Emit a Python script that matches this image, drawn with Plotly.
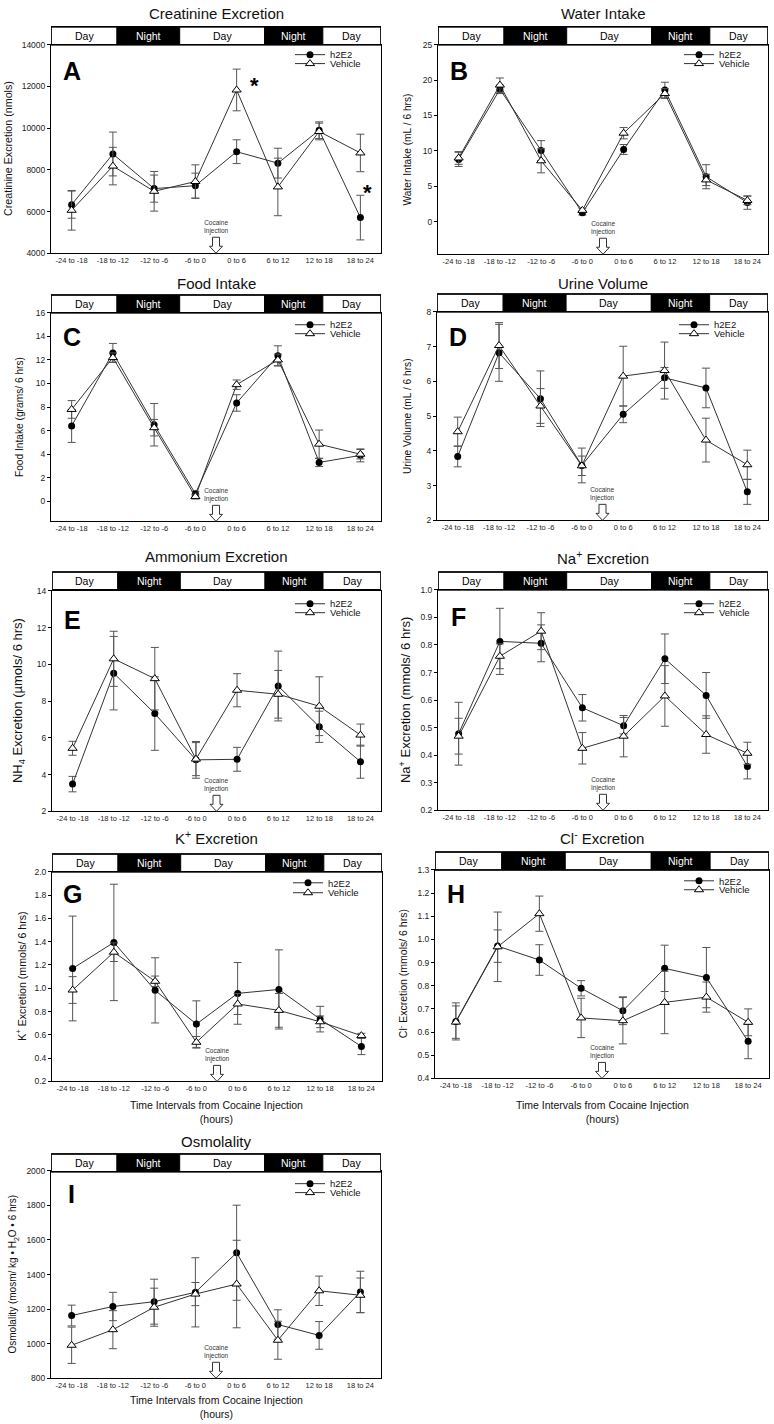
import plotly.graph_objects as go

W, H = 774, 1424
FONT = "Arial, 'Liberation Sans', Helvetica, sans-serif"

# ---------------- data ----------------
intervals = ["-24 to -18", "-18 to -12", "-12 to -6", "-6 to 0",
             "0 to 6", "6 to 12", "12 to 18", "18 to 24"]
series_names = ["h2E2", "Vehicle"]

# Day / Night periods (edges in interval-index units)
period_labels = ["Day", "Night", "Day", "Night", "Day"]
period_edges = [-0.5, 1.1, 2.62, 4.68, 6.09, 7.5]

# A  Creatinine excretion (nmols)
creat_h2e2 = [6330, 8760, 7100, 7240, 8870, 8320, 9900, 5710]
creat_h2e2_se = [650, 1050, 650, 600, 570, 715, 400, 1070]
creat_veh = [6060, 8180, 6970, 7440, 11830, 7180, 9840, 8810]
creat_veh_se = [950, 900, 950, 800, 1000, 1380, 400, 900]

# B  Water intake (mL / 6 hrs)
water_h2e2 = [8.8, 18.7, 10.05, 1.25, 10.2, 18.6, 6.35, 2.7]
water_h2e2_se = [1.0, 0.6, 1.4, 0.3, 0.7, 1.1, 1.7, 0.95]
water_veh = [9.0, 19.3, 8.6, 1.6, 12.5, 18.1, 5.9, 3.0]
water_veh_se = [0.9, 1.0, 1.7, 0.3, 0.8, 0.7, 0.8, 0.6]

# C  Food intake (grams / 6 hrs)
food_h2e2 = [6.4, 12.6, 6.5, 0.65, 8.35, 12.35, 3.3, 3.9]
food_h2e2_se = [1.4, 0.8, 1.8, 0.2, 0.7, 0.85, 0.35, 0.55]
food_veh = [7.8, 12.2, 6.25, 0.4, 9.9, 12.0, 4.85, 4.0]
food_veh_se = [0.75, 0.4, 0.7, 0.2, 0.4, 0.5, 1.2, 0.4]

# D  Urine volume (mL / 6 hrs)
urine_h2e2 = [3.84, 6.82, 5.5, 3.58, 5.05, 6.1, 5.81, 2.82]
urine_h2e2_se = [0.3, 0.82, 0.8, 0.5, 0.24, 0.3, 0.57, 0.36]
urine_veh = [4.55, 7.03, 5.29, 3.57, 6.15, 6.31, 4.31, 3.6]
urine_veh_se = [0.42, 0.66, 0.5, 0.28, 0.86, 0.82, 0.63, 0.42]

# E  Ammonium excretion (umols / 6 hrs)
nh4_h2e2 = [3.48, 9.52, 7.32, 4.8, 4.83, 8.82, 6.6, 4.7]
nh4_h2e2_se = [0.42, 2.0, 2.0, 1.0, 0.65, 1.9, 0.85, 0.9]
nh4_veh = [5.43, 10.3, 9.22, 4.84, 8.59, 8.37, 7.72, 6.15]
nh4_veh_se = [0.38, 1.5, 1.7, 0.9, 0.9, 1.3, 1.6, 0.6]

# F  Na+ excretion (mmols / 6 hrs)
na_h2e2 = [0.478, 0.813, 0.806, 0.572, 0.507, 0.75, 0.617, 0.359]
na_h2e2_se = [0.114, 0.12, 0.067, 0.048, 0.03, 0.09, 0.083, 0.045]
na_veh = [0.469, 0.759, 0.85, 0.425, 0.469, 0.615, 0.475, 0.407]
na_veh_se = [0.065, 0.045, 0.067, 0.057, 0.075, 0.11, 0.068, 0.04]

# G  K+ excretion (mmols / 6 hrs)
k_h2e2 = [1.17, 1.394, 0.982, 0.692, 0.956, 0.99, 0.735, 0.5]
k_h2e2_se = [0.45, 0.5, 0.28, 0.2, 0.265, 0.34, 0.11, 0.07]
k_veh = [0.985, 1.31, 1.06, 0.536, 0.865, 0.81, 0.712, 0.593]
k_veh_se = [0.115, 0.08, 0.045, 0.05, 0.09, 0.145, 0.05, 0.02]

# H  Cl- excretion (mmols / 6 hrs)
cl_h2e2 = [0.646, 0.971, 0.911, 0.789, 0.692, 0.875, 0.835, 0.56]
cl_h2e2_se = [0.08, 0.07, 0.066, 0.033, 0.06, 0.1, 0.13, 0.075]
cl_veh = [0.643, 0.968, 1.111, 0.661, 0.649, 0.728, 0.751, 0.642]
cl_veh_se = [0.07, 0.15, 0.076, 0.085, 0.1, 0.135, 0.065, 0.058]

# I  Osmolality
osm_h2e2 = [1163, 1215, 1243, 1297, 1526, 1111, 1048, 1299]
osm_h2e2_se = [60, 82, 130, 200, 275, 85, 80, 120]
osm_veh = [991, 1081, 1211, 1287, 1345, 1020, 1306, 1280]
osm_veh_se = [105, 110, 110, 67, 253, 110, 85, 100]

# significance markers on panel A (interval index, value)
star_x = [4.43, 7.17]
star_y = [12330, 7190]

# ---------------- layout helpers ----------------
def fx(px):
    return px / W


def fy(py):
    return 1 - py / H


panels = [
    dict(letter="A", title="Creatinine Excretion", ytitle="Creatinine Excretion (nmols)",
         data=(creat_h2e2, creat_h2e2_se, creat_veh, creat_veh_se),
         box=(51, 381, 40, 250), bar=22, yr=[4000, 14000], tick0=4000, dtick=2000, fmt="d",
         ytsize=10.7, ytx=8, title_y=9, ldy=26, leg=(50, 59, 330)),
    dict(letter="B", title="Water Intake", ytitle="Water Intake (mL / 6 hrs)",
         data=(water_h2e2, water_h2e2_se, water_veh, water_veh_se),
         box=(438, 768, 40, 251), bar=22, yr=[-4.6, 25], tick0=0, dtick=5, fmt="d",
         ytsize=10.2, ytx=407, title_y=9, ldy=26, leg=(50, 59, 719)),
    dict(letter="C", title="Food Intake", ytitle="Food Intake (grams/ 6 hrs)",
         data=(food_h2e2, food_h2e2_se, food_veh, food_veh_se),
         box=(51, 381, 310, 520), bar=292, yr=[-1.7, 16], tick0=0, dtick=2, fmt="d",
         ytsize=10.2, ytx=19, title_y=280, ldy=24, leg=(322, 331, 330)),
    dict(letter="D", title="Urine Volume", ytitle="Urine Volume (mL / 6 hrs)",
         data=(urine_h2e2, urine_h2e2_se, urine_veh, urine_veh_se),
         box=(437, 768, 309, 519), bar=291, yr=[2, 8], tick0=2, dtick=1, fmt="d",
         ytsize=10.2, ytx=407, title_y=280, ldy=25, leg=(322, 331, 714)),
    dict(letter="E", title="Ammonium Excretion", ytitle="NH<sub>4</sub> Excretion (µmols/ 6 hrs)",
         data=(nh4_h2e2, nh4_h2e2_se, nh4_veh, nh4_veh_se),
         box=(52, 381, 590, 812), bar=571, yr=[2, 14], tick0=2, dtick=2, fmt="d",
         ytsize=13, ytx=18, title_y=555, ldy=29, leg=(603, 612, 330)),
    dict(letter="F", title="Na<sup>+</sup> Excretion", ytitle="Na<sup>+</sup> Excretion (mmols/ 6 hrs)",
         data=(na_h2e2, na_h2e2_se, na_veh, na_veh_se),
         box=(438, 768, 589, 811), bar=571, yr=[0.2, 1.0], tick0=0.2, dtick=0.1, fmt=".1f",
         ytsize=13, ytx=405, title_y=556, ldy=27, leg=(603, 612, 719)),
    dict(letter="G", title="K<sup>+</sup> Excretion", ytitle="K<sup>+</sup> Excretion (mmols/ 6 hrs)",
         data=(k_h2e2, k_h2e2_se, k_veh, k_veh_se),
         box=(52, 382, 873, 1084), bar=855, yr=[0.2, 2.0], tick0=0.2, dtick=0.2, fmt=".1f",
         ytsize=10.6, ytx=21, title_y=838, ldy=22, leg=(884, 894, 328)),
    dict(letter="H", title="Cl<sup>-</sup> Excretion", ytitle="Cl<sup>-</sup> Excretion (mmols/ 6 hrs)",
         data=(cl_h2e2, cl_h2e2_se, cl_veh, cl_veh_se),
         box=(435, 769, 871, 1081), bar=853, yr=[0.4, 1.3], tick0=0.4, dtick=0.1, fmt=".1f",
         ytsize=10.5, ytx=402, title_y=838, ldy=24, leg=(882, 891, 719)),
    dict(letter="I", title="Osmolality", ytitle="Osmolality (mosm/ kg • H<sub>2</sub>O • 6 hrs)",
         data=(osm_h2e2, osm_h2e2_se, osm_veh, osm_veh_se),
         box=(51, 381, 1174, 1383), bar=1157, yr=[800, 2000], tick0=800, dtick=200, fmt="d",
         ytsize=10, ytx=13, title_y=1145, ldy=23, leg=(1187, 1196, 330)),
]

xtitle_panels = {"G": 1115, "H": 1115, "I": 1412}

fig = go.Figure()
annotations = []
shapes = []
layout = dict(
    width=W, height=H, autosize=False,
    margin=dict(l=0, r=0, t=0, b=0),
    paper_bgcolor="white", plot_bgcolor="white",
    font=dict(family=FONT, color="#111"),
)

xidx = list(range(len(intervals)))
BAR_H = 18
LEG_DX = 40

for i, p in enumerate(panels):
    n = i + 1
    sfx = "" if n == 1 else str(n)
    xa, ya = "x" + sfx, "y" + sfx
    x0, x1, top, bot = p["box"]
    h_vals, h_se, v_vals, v_se = p["data"]

    # legends (one per entry so their spacing can follow the original)
    lk1, lk2 = 2 * i + 1, 2 * i + 2
    lname1 = "legend" if lk1 == 1 else "legend%d" % lk1
    lname2 = "legend%d" % lk2
    ly1, ly2, ltx = p["leg"]
    for lname, ly in ((lname1, ly1), (lname2, ly2)):
        layout[lname] = dict(
            x=fx(ltx - LEG_DX), xanchor="left", y=fy(ly), yanchor="middle",
            bgcolor="rgba(0,0,0,0)", borderwidth=0, itemwidth=30,
            font=dict(family=FONT, size=9.5, color="#111"),
            tracegroupgap=0,
        )

    fig.add_trace(go.Scatter(
        x=xidx, y=h_vals, name=series_names[0], mode="lines+markers",
        error_y=dict(type="data", array=h_se, color="#555", thickness=1, width=4),
        line=dict(color="#333", width=1),
        marker=dict(symbol="circle", size=7, color="black"),
        xaxis=xa, yaxis=ya, legend=lname1, showlegend=True,
    ))
    fig.add_trace(go.Scatter(
        x=xidx, y=v_vals, name=series_names[1], mode="lines+markers",
        error_y=dict(type="data", array=v_se, color="#555", thickness=1, width=4),
        line=dict(color="#333", width=1),
        marker=dict(symbol="triangle-up", size=8, color="white",
                    line=dict(color="black", width=1)),
        xaxis=xa, yaxis=ya, legend=lname2, showlegend=True,
    ))

    layout["xaxis" + sfx] = dict(
        domain=[fx(x0), fx(x1)], anchor=ya, range=[-0.5, 7.5],
        tickmode="array", tickvals=xidx, ticktext=intervals,
        ticks="", showgrid=False, zeroline=False,
        showline=True, mirror=True, linecolor="black", linewidth=1,
        tickfont=dict(family=FONT, size=7.5, color="#222"),
        fixedrange=True,
    )
    layout["yaxis" + sfx] = dict(
        domain=[fy(bot), fy(top)], anchor=xa, range=p["yr"],
        tickmode="linear", tick0=p["tick0"], dtick=p["dtick"], tickformat=p["fmt"],
        ticks="outside", ticklen=3, tickcolor="black", tickwidth=1,
        showgrid=False, zeroline=False,
        showline=True, mirror=True, linecolor="black", linewidth=1,
        tickfont=dict(family=FONT, size=8.5, color="#222"),
        fixedrange=True,
    )

    # panel title
    annotations.append(dict(
        text=p["title"], x=fx((x0 + x1) / 2), y=fy(p["title_y"]), xref="paper", yref="paper",
        showarrow=False, xanchor="center", yanchor="middle",
        font=dict(family=FONT, size=15, color="#111")))
    # y-axis title
    annotations.append(dict(
        text=p["ytitle"], x=fx(p["ytx"]), y=fy((top + bot) / 2), xref="paper", yref="paper",
        showarrow=False, textangle=-90, xanchor="center", yanchor="middle",
        font=dict(family=FONT, size=p["ytsize"], color="#111")))
    # panel letter
    annotations.append(dict(
        text="<b>%s</b>" % p["letter"], x=0, xref=xa, y=1, yref=ya + " domain",
        yshift=-p["ldy"], showarrow=False, xanchor="center", yanchor="middle",
        font=dict(family=FONT, size=25, color="black")))
    # cocaine injection
    annotations.append(dict(
        text="Cocaine<br>Injection", x=3.5, xref=xa, y=0, yref=ya + " domain",
        yshift=16, showarrow=False, xanchor="center", yanchor="bottom",
        font=dict(family=FONT, size=6.5, color="#333")))
    shapes.append(dict(
        type="path", xref=xa, yref=ya + " domain", xsizemode="pixel", ysizemode="pixel",
        xanchor=3.5, yanchor=0,
        path="M -3.5 16 L 3.5 16 L 3.5 7 L 6.5 7 L 0 0 L -6.5 7 L -3.5 7 Z",
        fillcolor="white", line=dict(color="#333", width=1)))

    # day / night bar
    btop, bbot = p["bar"], p["bar"] + BAR_H
    for k, lab in enumerate(period_labels):
        a, b = period_edges[k], period_edges[k + 1]
        night = lab == "Night"
        shapes.append(dict(
            type="rect", xref=xa, yref="paper", x0=a, x1=b, y0=fy(bbot), y1=fy(btop),
            fillcolor="black" if night else "white", line=dict(color="black", width=1),
            layer="above"))
        annotations.append(dict(
            text=lab, x=(a + b) / 2, xref=xa, y=fy((btop + bbot) / 2), yref="paper",
            showarrow=False, xanchor="center", yanchor="middle",
            font=dict(family=FONT, size=10.5, color="white" if night else "black")))
    shapes.append(dict(
        type="rect", xref=xa, yref="paper", x0=period_edges[0], x1=period_edges[-1],
        y0=fy(bbot), y1=fy(btop), line=dict(color="black", width=1.5),
        fillcolor="rgba(0,0,0,0)", layer="above"))

    # x-axis title
    if p["letter"] in xtitle_panels:
        annotations.append(dict(
            text="Time Intervals from Cocaine Injection<br>(hours)",
            x=fx((x0 + x1) / 2), y=fy(xtitle_panels[p["letter"]]), xref="paper", yref="paper",
            showarrow=False, xanchor="center", yanchor="middle",
            font=dict(family=FONT, size=10.5, color="#111")))

# significance asterisks on panel A
for sx, sy in zip(star_x, star_y):
    annotations.append(dict(
        text="<b>*</b>", x=sx, y=sy, xref="x", yref="y", yshift=-6,
        showarrow=False, xanchor="center", yanchor="middle",
        font=dict(family=FONT, size=22, color="black")))

layout["annotations"] = annotations
layout["shapes"] = shapes
fig.update_layout(**layout)
fig.write_html(
    "out.html",
    config={"displayModeBar": False},
    post_script="document.body.style.margin='0';document.body.style.overflow='hidden';",
)
